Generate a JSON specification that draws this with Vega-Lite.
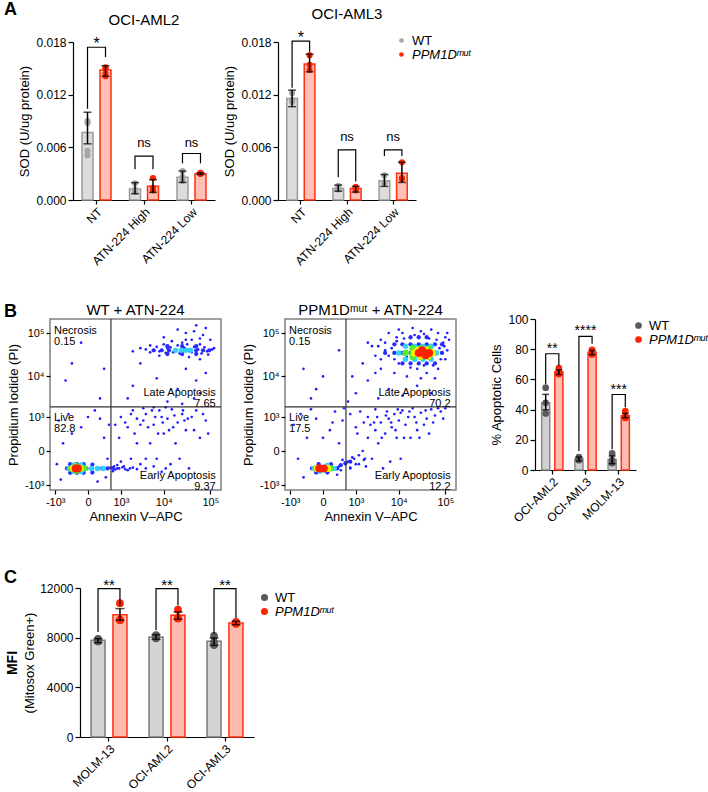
{
"$schema":"https://vega.github.io/schema/vega-lite/v6.json",
"background":"white",
"padding":{"left":4,"top":0,"right":4,"bottom":2},
"datasets":{
"sum":[
{"p":"A1","c":"NT","g":"WT","m":0.0077,"lo":0.0064,"hi":0.0100},
{"p":"A1","c":"NT","g":"MUT","m":0.0148,"lo":0.0141,"hi":0.0153},
{"p":"A1","c":"ATN-224 High","g":"WT","m":0.00125,"lo":0.00072,"hi":0.00198},
{"p":"A1","c":"ATN-224 High","g":"MUT","m":0.00156,"lo":0.00087,"hi":0.00232},
{"p":"A1","c":"ATN-224 Low","g":"WT","m":0.00258,"lo":0.0020,"hi":0.0033},
{"p":"A1","c":"ATN-224 Low","g":"MUT","m":0.0030,"lo":0.0029,"hi":0.0031},
{"p":"A2","c":"NT","g":"WT","m":0.01157,"lo":0.01063,"hi":0.01252},
{"p":"A2","c":"NT","g":"MUT","m":0.0155,"lo":0.0146,"hi":0.0166},
{"p":"A2","c":"ATN-224 High","g":"WT","m":0.00132,"lo":0.0010,"hi":0.0017},
{"p":"A2","c":"ATN-224 High","g":"MUT","m":0.0013,"lo":0.0009,"hi":0.00155},
{"p":"A2","c":"ATN-224 Low","g":"WT","m":0.0022,"lo":0.00155,"hi":0.0029},
{"p":"A2","c":"ATN-224 Low","g":"MUT","m":0.00306,"lo":0.0020,"hi":0.0043},
{"p":"B3","c":"OCI-AML2","g":"WT","m":44.6,"lo":39.9,"hi":50.1},
{"p":"B3","c":"OCI-AML2","g":"MUT","m":65,"lo":63.2,"hi":66.3},
{"p":"B3","c":"OCI-AML3","g":"WT","m":7.5,"lo":6.0,"hi":8.6},
{"p":"B3","c":"OCI-AML3","g":"MUT","m":78,"lo":76.3,"hi":79.2},
{"p":"B3","c":"MOLM-13","g":"WT","m":7,"lo":4.2,"hi":9.3},
{"p":"B3","c":"MOLM-13","g":"MUT","m":36,"lo":34.6,"hi":37.5},
{"p":"C","c":"MOLM-13","g":"WT","m":7785,"lo":7600,"hi":7920},
{"p":"C","c":"MOLM-13","g":"MUT","m":9852,"lo":9400,"hi":10340},
{"p":"C","c":"OCI-AML2","g":"WT","m":8054,"lo":7866,"hi":8242},
{"p":"C","c":"OCI-AML2","g":"MUT","m":9798,"lo":9480,"hi":10070},
{"p":"C","c":"OCI-AML3","g":"WT","m":7705,"lo":7383,"hi":7973},
{"p":"C","c":"OCI-AML3","g":"MUT","m":9181,"lo":9047,"hi":9315}
],
"pts":[
{"p":"A1","c":"NT","g":"WT","v":0.0090},{"p":"A1","c":"NT","g":"WT","v":0.0088},{"p":"A1","c":"NT","g":"WT","v":0.0056},{"p":"A1","c":"NT","g":"WT","v":0.0051},
{"p":"A1","c":"NT","g":"MUT","v":0.0151},{"p":"A1","c":"NT","g":"MUT","v":0.0150},{"p":"A1","c":"NT","g":"MUT","v":0.0144},{"p":"A1","c":"NT","g":"MUT","v":0.0141},
{"p":"A1","c":"ATN-224 High","g":"WT","v":0.0019},{"p":"A1","c":"ATN-224 High","g":"WT","v":0.0012},{"p":"A1","c":"ATN-224 High","g":"WT","v":0.0009},
{"p":"A1","c":"ATN-224 High","g":"MUT","v":0.0025},{"p":"A1","c":"ATN-224 High","g":"MUT","v":0.0014},{"p":"A1","c":"ATN-224 High","g":"MUT","v":0.0011},
{"p":"A1","c":"ATN-224 Low","g":"WT","v":0.0033},{"p":"A1","c":"ATN-224 Low","g":"WT","v":0.0026},{"p":"A1","c":"ATN-224 Low","g":"WT","v":0.0022},
{"p":"A1","c":"ATN-224 Low","g":"MUT","v":0.0031},{"p":"A1","c":"ATN-224 Low","g":"MUT","v":0.0030},{"p":"A1","c":"ATN-224 Low","g":"MUT","v":0.0030},
{"p":"A2","c":"NT","g":"WT","v":0.0122},{"p":"A2","c":"NT","g":"WT","v":0.0114},{"p":"A2","c":"NT","g":"WT","v":0.0112},
{"p":"A2","c":"NT","g":"MUT","v":0.0165},{"p":"A2","c":"NT","g":"MUT","v":0.0154},{"p":"A2","c":"NT","g":"MUT","v":0.0148},
{"p":"A2","c":"ATN-224 High","g":"WT","v":0.0016},{"p":"A2","c":"ATN-224 High","g":"WT","v":0.0013},{"p":"A2","c":"ATN-224 High","g":"WT","v":0.0012},
{"p":"A2","c":"ATN-224 High","g":"MUT","v":0.0015},{"p":"A2","c":"ATN-224 High","g":"MUT","v":0.0013},{"p":"A2","c":"ATN-224 High","g":"MUT","v":0.0011},
{"p":"A2","c":"ATN-224 Low","g":"WT","v":0.0028},{"p":"A2","c":"ATN-224 Low","g":"WT","v":0.0020},{"p":"A2","c":"ATN-224 Low","g":"WT","v":0.0019},
{"p":"A2","c":"ATN-224 Low","g":"MUT","v":0.0043},{"p":"A2","c":"ATN-224 Low","g":"MUT","v":0.0025},{"p":"A2","c":"ATN-224 Low","g":"MUT","v":0.0024},
{"p":"B3","c":"OCI-AML2","g":"WT","v":54.5},{"p":"B3","c":"OCI-AML2","g":"WT","v":44.5},{"p":"B3","c":"OCI-AML2","g":"WT","v":37.5},
{"p":"B3","c":"OCI-AML2","g":"MUT","v":67.5},{"p":"B3","c":"OCI-AML2","g":"MUT","v":64.5},{"p":"B3","c":"OCI-AML2","g":"MUT","v":63.5},
{"p":"B3","c":"OCI-AML3","g":"WT","v":8.5},{"p":"B3","c":"OCI-AML3","g":"WT","v":7.5},{"p":"B3","c":"OCI-AML3","g":"WT","v":6.5},
{"p":"B3","c":"OCI-AML3","g":"MUT","v":79.5},{"p":"B3","c":"OCI-AML3","g":"MUT","v":77.5},{"p":"B3","c":"OCI-AML3","g":"MUT","v":76.5},
{"p":"B3","c":"MOLM-13","g":"WT","v":11},{"p":"B3","c":"MOLM-13","g":"WT","v":6.5},{"p":"B3","c":"MOLM-13","g":"WT","v":4.5},
{"p":"B3","c":"MOLM-13","g":"MUT","v":39},{"p":"B3","c":"MOLM-13","g":"MUT","v":35.5},{"p":"B3","c":"MOLM-13","g":"MUT","v":34.5},
{"p":"C","c":"MOLM-13","g":"WT","v":7900},{"p":"C","c":"MOLM-13","g":"WT","v":7750},{"p":"C","c":"MOLM-13","g":"WT","v":7700},
{"p":"C","c":"MOLM-13","g":"MUT","v":10780},{"p":"C","c":"MOLM-13","g":"MUT","v":9450},{"p":"C","c":"MOLM-13","g":"MUT","v":9400},
{"p":"C","c":"OCI-AML2","g":"WT","v":8200},{"p":"C","c":"OCI-AML2","g":"WT","v":8000},{"p":"C","c":"OCI-AML2","g":"WT","v":7950},
{"p":"C","c":"OCI-AML2","g":"MUT","v":10250},{"p":"C","c":"OCI-AML2","g":"MUT","v":9600},{"p":"C","c":"OCI-AML2","g":"MUT","v":9550},
{"p":"C","c":"OCI-AML3","g":"WT","v":8150},{"p":"C","c":"OCI-AML3","g":"WT","v":7650},{"p":"C","c":"OCI-AML3","g":"WT","v":7400},
{"p":"C","c":"OCI-AML3","g":"MUT","v":9280},{"p":"C","c":"OCI-AML3","g":"MUT","v":9150},{"p":"C","c":"OCI-AML3","g":"MUT","v":9120}
],
"br":[
{"p":"A1","c":"NT","g":"WT","v":0.0104,"o":1},{"p":"A1","c":"NT","g":"WT","v":0.0174,"o":2},{"p":"A1","c":"NT","g":"MUT","v":0.0174,"o":3},{"p":"A1","c":"NT","g":"MUT","v":0.0163,"o":4},
{"p":"A1","c":"ATN-224 High","g":"WT","v":0.0035,"o":1},{"p":"A1","c":"ATN-224 High","g":"WT","v":0.0050,"o":2},{"p":"A1","c":"ATN-224 High","g":"MUT","v":0.0050,"o":3},{"p":"A1","c":"ATN-224 High","g":"MUT","v":0.0035,"o":4},
{"p":"A1","c":"ATN-224 Low","g":"WT","v":0.0042,"o":1},{"p":"A1","c":"ATN-224 Low","g":"WT","v":0.0053,"o":2},{"p":"A1","c":"ATN-224 Low","g":"MUT","v":0.0053,"o":3},{"p":"A1","c":"ATN-224 Low","g":"MUT","v":0.0042,"o":4},
{"p":"A2","c":"NT","g":"WT","v":0.0128,"o":1},{"p":"A2","c":"NT","g":"WT","v":0.0181,"o":2},{"p":"A2","c":"NT","g":"MUT","v":0.0181,"o":3},{"p":"A2","c":"NT","g":"MUT","v":0.0169,"o":4},
{"p":"A2","c":"ATN-224 High","g":"WT","v":0.0026,"o":1},{"p":"A2","c":"ATN-224 High","g":"WT","v":0.0057,"o":2},{"p":"A2","c":"ATN-224 High","g":"MUT","v":0.0057,"o":3},{"p":"A2","c":"ATN-224 High","g":"MUT","v":0.0021,"o":4},
{"p":"A2","c":"ATN-224 Low","g":"WT","v":0.0050,"o":1},{"p":"A2","c":"ATN-224 Low","g":"WT","v":0.0057,"o":2},{"p":"A2","c":"ATN-224 Low","g":"MUT","v":0.0057,"o":3},{"p":"A2","c":"ATN-224 Low","g":"MUT","v":0.0050,"o":4},
{"p":"B3","c":"OCI-AML2","g":"WT","v":57,"o":1},{"p":"B3","c":"OCI-AML2","g":"WT","v":77,"o":2},{"p":"B3","c":"OCI-AML2","g":"MUT","v":77,"o":3},{"p":"B3","c":"OCI-AML2","g":"MUT","v":69,"o":4},
{"p":"B3","c":"OCI-AML3","g":"WT","v":12.6,"o":1},{"p":"B3","c":"OCI-AML3","g":"WT","v":88.5,"o":2},{"p":"B3","c":"OCI-AML3","g":"MUT","v":88.5,"o":3},{"p":"B3","c":"OCI-AML3","g":"MUT","v":83.6,"o":4},
{"p":"B3","c":"MOLM-13","g":"WT","v":13.7,"o":1},{"p":"B3","c":"MOLM-13","g":"WT","v":50,"o":2},{"p":"B3","c":"MOLM-13","g":"MUT","v":50,"o":3},{"p":"B3","c":"MOLM-13","g":"MUT","v":41.5,"o":4},
{"p":"C","c":"MOLM-13","g":"WT","v":8456,"o":1},{"p":"C","c":"MOLM-13","g":"WT","v":11950,"o":2},{"p":"C","c":"MOLM-13","g":"MUT","v":11950,"o":3},{"p":"C","c":"MOLM-13","g":"MUT","v":10600,"o":4},
{"p":"C","c":"OCI-AML2","g":"WT","v":8590,"o":1},{"p":"C","c":"OCI-AML2","g":"WT","v":11950,"o":2},{"p":"C","c":"OCI-AML2","g":"MUT","v":11950,"o":3},{"p":"C","c":"OCI-AML2","g":"MUT","v":10600,"o":4},
{"p":"C","c":"OCI-AML3","g":"WT","v":8320,"o":1},{"p":"C","c":"OCI-AML3","g":"WT","v":11950,"o":2},{"p":"C","c":"OCI-AML3","g":"MUT","v":11950,"o":3},{"p":"C","c":"OCI-AML3","g":"MUT","v":9580,"o":4}
],
"sig":[
{"p":"A1","c":"NT","t":"*","v":0.0172},{"p":"A1","c":"ATN-224 High","t":"ns","v":0.0060},{"p":"A1","c":"ATN-224 Low","t":"ns","v":0.0060},
{"p":"A2","c":"NT","t":"*","v":0.0179},{"p":"A2","c":"ATN-224 High","t":"ns","v":0.0067},{"p":"A2","c":"ATN-224 Low","t":"ns","v":0.0067},
{"p":"B3","c":"OCI-AML2","t":"**","v":77.5},{"p":"B3","c":"OCI-AML3","t":"****","v":89.5},{"p":"B3","c":"MOLM-13","t":"***","v":50.3},
{"p":"C","c":"MOLM-13","t":"**","v":11800},{"p":"C","c":"OCI-AML2","t":"**","v":11800},{"p":"C","c":"OCI-AML3","t":"**","v":11800}
],
"gates":[{"p":"WT","gx":520,"gy":1840},{"p":"MUT","gx":520,"gy":1840}],
"qlab":[
{"p":"WT","q":"L","t":"Necrosis\n0.15","x":-1070,"y":150000},
{"p":"WT","q":"L","t":"Live\n82.8","x":-1070,"y":1360},
{"p":"WT","q":"R","t":"Late Apoptosis\n7.65","x":130000,"y":3000},
{"p":"WT","q":"R","t":"Early Apoptosis\n9.37","x":130000,"y":-750},
{"p":"MUT","q":"L","t":"Necrosis\n0.15","x":-1070,"y":150000},
{"p":"MUT","q":"L","t":"Live\n17.5","x":-1070,"y":1360},
{"p":"MUT","q":"R","t":"Late Apoptosis\n70.2","x":130000,"y":3000},
{"p":"MUT","q":"R","t":"Early Apoptosis\n12.2","x":130000,"y":-750}
],
"fwt":[
{"x":10000,"y":80000,"d":0},{"x":30000,"y":100000,"d":0},{"x":50000,"y":150000,"d":0},{"x":70000,"y":90000,"d":0},{"x":40000,"y":70000,"d":0},{"x":20000,"y":120000,"d":0},{"x":80000,"y":130000,"d":0},{"x":15000,"y":65000,"d":0},{"x":60000,"y":25000,"d":0},{"x":100000,"y":70000,"d":0},{"x":8000,"y":30000,"d":0},{"x":3000,"y":45000,"d":0},{"x":5000,"y":52000,"d":0},{"x":120000,"y":45000,"d":0},{"x":2000,"y":38000,"d":0},{"x":35000,"y":28000,"d":0},{"x":90000,"y":32000,"d":0},{"x":25000,"y":60000,"d":0},{"x":45000,"y":110000,"d":0},{"x":12000,"y":45000,"d":0},
{"x":4000,"y":42000,"d":0},{"x":5000,"y":36000,"d":0},{"x":7000,"y":48000,"d":0},{"x":8000,"y":38000,"d":0},{"x":10000,"y":55000,"d":0},{"x":11000,"y":35000,"d":0},{"x":14000,"y":47000,"d":0},{"x":16000,"y":36000,"d":0},{"x":20000,"y":52000,"d":0},{"x":22000,"y":34000,"d":0},{"x":28000,"y":46000,"d":0},{"x":32000,"y":55000,"d":0},{"x":40000,"y":36000,"d":0},{"x":45000,"y":48000,"d":0},{"x":55000,"y":42000,"d":0},{"x":60000,"y":55000,"d":0},{"x":65000,"y":34000,"d":0},{"x":75000,"y":47000,"d":0},{"x":85000,"y":38000,"d":0},{"x":110000,"y":42000,"d":0},{"x":30000,"y":70000,"d":0},{"x":60000,"y":75000,"d":0},
{"x":30000,"y":15000,"d":0},{"x":50000,"y":8000,"d":0},{"x":20000,"y":5000,"d":0},{"x":3000,"y":20000,"d":0},{"x":2000,"y":6000,"d":0},{"x":1500,"y":3000,"d":0},{"x":45000,"y":3000,"d":0},{"x":80000,"y":12000,"d":0},{"x":12000,"y":2500,"d":0},{"x":60000,"y":4000,"d":0},{"x":7000,"y":9000,"d":0},{"x":25000,"y":2200,"d":0},
{"x":-300,"y":20000,"d":0},{"x":-100,"y":60000,"d":0},{"x":200,"y":3000,"d":0},{"x":-500,"y":8000,"d":0},{"x":300,"y":15000,"d":0},
{"x":800,"y":-300,"d":0},{"x":1200,"y":-250,"d":0},{"x":1500,"y":-350,"d":0},{"x":2000,"y":-280,"d":0},{"x":2500,"y":-320,"d":0},{"x":3000,"y":-200,"d":0},{"x":4000,"y":-300,"d":0},{"x":6000,"y":-250,"d":0},{"x":900,"y":200,"d":0},{"x":1500,"y":500,"d":0},{"x":2500,"y":900,"d":0},{"x":4000,"y":1200,"d":0},{"x":6000,"y":600,"d":0},{"x":8000,"y":1500,"d":0},{"x":10000,"y":300,"d":0},{"x":12000,"y":900,"d":0},{"x":15000,"y":1600,"d":0},{"x":20000,"y":700,"d":0},{"x":25000,"y":1200,"d":0},{"x":30000,"y":400,"d":0},{"x":40000,"y":1000,"d":0},{"x":50000,"y":1500,"d":0},{"x":60000,"y":200,"d":0},{"x":80000,"y":800,"d":0},{"x":3500,"y":1700,"d":0},{"x":5000,"y":100,"d":0},{"x":7000,"y":-100,"d":0},{"x":9000,"y":-400,"d":0},{"x":14000,"y":-200,"d":0},{"x":18000,"y":100,"d":0},{"x":1000,"y":1000,"d":0},{"x":2000,"y":1500,"d":0},{"x":700,"y":600,"d":0},{"x":11000,"y":1800,"d":0},{"x":35000,"y":-300,"d":0},{"x":2200,"y":300,"d":0},{"x":4500,"y":500,"d":0},{"x":17000,"y":1100,"d":0},{"x":3000,"y":600,"d":0},{"x":6500,"y":1000,"d":0},{"x":9500,"y":700,"d":0},{"x":13000,"y":400,"d":0},{"x":28000,"y":800,"d":0},{"x":1800,"y":-100,"d":0},
{"x":1000,"y":-150,"d":0},{"x":2500,"y":100,"d":0},{"x":3500,"y":800,"d":0},{"x":5500,"y":1500,"d":0},{"x":7500,"y":300,"d":0},{"x":9000,"y":1000,"d":0},{"x":11000,"y":-300,"d":0},{"x":16000,"y":500,"d":0},{"x":22000,"y":-100,"d":0},{"x":26000,"y":1500,"d":0},{"x":33000,"y":900,"d":0},{"x":45000,"y":400,"d":0},{"x":70000,"y":1200,"d":0},{"x":90000,"y":300,"d":0},{"x":1300,"y":700,"d":0},{"x":1800,"y":1200,"d":0},{"x":4000,"y":-100,"d":0},{"x":6000,"y":1800,"d":0},
{"x":-800,"y":800,"d":0},{"x":-400,"y":1200,"d":0},{"x":-100,"y":500,"d":0},{"x":200,"y":900,"d":0},{"x":300,"y":200,"d":0},{"x":-600,"y":100,"d":0},{"x":100,"y":1500,"d":0},{"x":400,"y":-100,"d":0},{"x":-300,"y":300,"d":0},{"x":0,"y":1000,"d":0},{"x":-900,"y":-200,"d":0},{"x":350,"y":-600,"d":0},{"x":-700,"y":-700,"d":0},{"x":150,"y":-800,"d":0},{"x":450,"y":600,"d":0},
{"x":500,"y":-280,"d":0},{"x":700,"y":-330,"d":0},{"x":650,"y":-250,"d":0},{"x":900,"y":-300,"d":0},{"x":1100,"y":-270,"d":0},{"x":1300,"y":-320,"d":0},{"x":1700,"y":-300,"d":0},{"x":600,"y":-380,"d":0},{"x":800,"y":-220,"d":0},
{"x":-450,"y":-300,"d":1},{"x":-320,"y":-300,"d":1},{"x":-200,"y":-300,"d":1},{"x":-100,"y":-300,"d":1},{"x":-20,"y":-300,"d":1},{"x":50,"y":-300,"d":1},{"x":140,"y":-300,"d":1},{"x":250,"y":-300,"d":1},{"x":400,"y":-300,"d":1},{"x":600,"y":-290,"d":1},{"x":-350,"y":-200,"d":1},{"x":-180,"y":-200,"d":1},{"x":-60,"y":-200,"d":1},{"x":60,"y":-210,"d":1},{"x":-350,"y":-430,"d":1},{"x":-180,"y":-430,"d":1},{"x":-60,"y":-430,"d":1},{"x":60,"y":-420,"d":1},
{"x":6000,"y":40000,"d":1},{"x":9000,"y":40000,"d":1},{"x":13000,"y":40000,"d":1},{"x":18000,"y":40000,"d":1},{"x":25000,"y":40000,"d":1},{"x":35000,"y":40000,"d":1},{"x":50000,"y":40000,"d":1},{"x":70000,"y":40000,"d":1},{"x":95000,"y":40000,"d":1},{"x":12000,"y":50000,"d":1},{"x":25000,"y":50000,"d":1},{"x":50000,"y":50000,"d":1},{"x":12000,"y":33000,"d":1},{"x":25000,"y":33000,"d":1},{"x":50000,"y":33000,"d":1},
{"x":-380,"y":-300,"d":2},{"x":-250,"y":-300,"d":2},{"x":-130,"y":-300,"d":2},{"x":-40,"y":-300,"d":2},{"x":50,"y":-300,"d":2},{"x":150,"y":-300,"d":2},{"x":280,"y":-300,"d":2},{"x":-250,"y":-220,"d":2},{"x":-250,"y":-390,"d":2},{"x":-100,"y":-220,"d":2},{"x":-100,"y":-390,"d":2},
{"x":18000,"y":40000,"d":2},{"x":24000,"y":40000,"d":2},{"x":30000,"y":40000,"d":2},{"x":38000,"y":40000,"d":2},
{"x":-320,"y":-300,"d":3},{"x":-220,"y":-300,"d":3},{"x":-130,"y":-300,"d":3},{"x":-50,"y":-300,"d":3},{"x":-200,"y":-240,"d":3},{"x":-200,"y":-370,"d":3},
{"x":-260,"y":-300,"d":4},{"x":-190,"y":-300,"d":4},{"x":-120,"y":-300,"d":4},
{"x":-210,"y":-300,"d":5},{"x":-160,"y":-300,"d":5}
],
"fmut":[
{"x":3000,"y":30000,"d":0},{"x":2500,"y":50000,"d":0},{"x":4000,"y":70000,"d":0},{"x":6000,"y":100000,"d":0},{"x":10000,"y":120000,"d":0},{"x":20000,"y":130000,"d":0},{"x":50000,"y":120000,"d":0},{"x":90000,"y":60000,"d":0},{"x":110000,"y":40000,"d":0},{"x":100000,"y":25000,"d":0},{"x":70000,"y":15000,"d":0},{"x":40000,"y":12000,"d":0},{"x":15000,"y":10000,"d":0},{"x":8000,"y":12000,"d":0},{"x":4000,"y":15000,"d":0},{"x":2000,"y":8000,"d":0},{"x":6000,"y":5000,"d":0},{"x":25000,"y":6000,"d":0},{"x":50000,"y":4000,"d":0},{"x":3500,"y":3000,"d":0},{"x":12000,"y":3500,"d":0},{"x":1500,"y":20000,"d":0},{"x":1000,"y":4000,"d":0},{"x":8000,"y":25000,"d":0},{"x":110000,"y":100000,"d":0},{"x":600,"y":2500,"d":0},{"x":30000,"y":9000,"d":0},{"x":5000,"y":40000,"d":0},{"x":3000,"y":12000,"d":0},{"x":9000,"y":80000,"d":0},{"x":70000,"y":100000,"d":0},{"x":120000,"y":70000,"d":0},{"x":18000,"y":16000,"d":0},{"x":35000,"y":18000,"d":0},{"x":60000,"y":9000,"d":0},{"x":2000,"y":60000,"d":0},{"x":800,"y":10000,"d":0},
{"x":4000,"y":25000,"d":0},{"x":5000,"y":60000,"d":0},{"x":6000,"y":30000,"d":0},{"x":7000,"y":45000,"d":0},{"x":9000,"y":65000,"d":0},{"x":10000,"y":20000,"d":0},{"x":13000,"y":75000,"d":0},{"x":15000,"y":28000,"d":0},{"x":22000,"y":90000,"d":0},{"x":25000,"y":15000,"d":0},{"x":35000,"y":95000,"d":0},{"x":45000,"y":75000,"d":0},{"x":55000,"y":18000,"d":0},{"x":65000,"y":70000,"d":0},{"x":75000,"y":45000,"d":0},{"x":80000,"y":25000,"d":0},{"x":95000,"y":50000,"d":0},{"x":100000,"y":80000,"d":0},{"x":3500,"y":50000,"d":0},{"x":12000,"y":100000,"d":0},{"x":30000,"y":110000,"d":0},{"x":50000,"y":28000,"d":0},
{"x":-200,"y":3000,"d":0},{"x":-400,"y":15000,"d":0},{"x":300,"y":40000,"d":0},{"x":0,"y":10000,"d":0},{"x":-100,"y":5000,"d":0},
{"x":700,"y":-300,"d":0},{"x":900,"y":-100,"d":0},{"x":1200,"y":-200,"d":0},{"x":1500,"y":0,"d":0},{"x":1800,"y":-250,"d":0},{"x":2000,"y":200,"d":0},{"x":2500,"y":-100,"d":0},{"x":3000,"y":400,"d":0},{"x":3500,"y":100,"d":0},{"x":4000,"y":700,"d":0},{"x":5000,"y":300,"d":0},{"x":6000,"y":900,"d":0},{"x":7000,"y":500,"d":0},{"x":8000,"y":1200,"d":0},{"x":9000,"y":200,"d":0},{"x":10000,"y":800,"d":0},{"x":12000,"y":1500,"d":0},{"x":14000,"y":600,"d":0},{"x":16000,"y":1000,"d":0},{"x":20000,"y":1700,"d":0},{"x":25000,"y":400,"d":0},{"x":30000,"y":1300,"d":0},{"x":40000,"y":900,"d":0},{"x":50000,"y":1600,"d":0},{"x":60000,"y":1100,"d":0},{"x":80000,"y":1400,"d":0},{"x":100000,"y":1700,"d":0},{"x":1000,"y":500,"d":0},{"x":2000,"y":1000,"d":0},{"x":1300,"y":1400,"d":0},{"x":4500,"y":-300,"d":0},{"x":6500,"y":-150,"d":0},{"x":3000,"y":1600,"d":0},{"x":18000,"y":200,"d":0},{"x":45000,"y":300,"d":0},{"x":11000,"y":-100,"d":0},{"x":700,"y":1200,"d":0},{"x":2800,"y":700,"d":0},{"x":5500,"y":1400,"d":0},{"x":9500,"y":1600,"d":0},{"x":22000,"y":1000,"d":0},{"x":35000,"y":600,"d":0},{"x":1600,"y":700,"d":0},
{"x":1100,"y":300,"d":0},{"x":1700,"y":-100,"d":0},{"x":2300,"y":600,"d":0},{"x":3300,"y":1000,"d":0},{"x":4200,"y":200,"d":0},{"x":5200,"y":1100,"d":0},{"x":6800,"y":700,"d":0},{"x":8500,"y":400,"d":0},{"x":11000,"y":1300,"d":0},{"x":13000,"y":200,"d":0},{"x":17000,"y":1400,"d":0},{"x":24000,"y":700,"d":0},{"x":28000,"y":200,"d":0},{"x":38000,"y":1500,"d":0},{"x":55000,"y":700,"d":0},{"x":70000,"y":1700,"d":0},{"x":90000,"y":900,"d":0},
{"x":-800,"y":600,"d":0},{"x":-500,"y":1200,"d":0},{"x":-300,"y":200,"d":0},{"x":-100,"y":900,"d":0},{"x":100,"y":400,"d":0},{"x":200,"y":1400,"d":0},{"x":300,"y":100,"d":0},{"x":400,"y":800,"d":0},{"x":-600,"y":-100,"d":0},{"x":-200,"y":1600,"d":0},{"x":0,"y":200,"d":0},{"x":250,"y":-500,"d":0},{"x":-400,"y":-600,"d":0},{"x":450,"y":1700,"d":0},{"x":150,"y":700,"d":0},
{"x":300,"y":-250,"d":0},{"x":500,"y":-200,"d":0},{"x":400,"y":-120,"d":0},{"x":600,"y":-150,"d":0},{"x":800,"y":-80,"d":0},{"x":1000,"y":-200,"d":0},{"x":1200,"y":-50,"d":0},{"x":700,"y":-280,"d":0},{"x":350,"y":-350,"d":0},{"x":1600,"y":-120,"d":0},
{"x":-180,"y":-300,"d":1},{"x":-100,"y":-300,"d":1},{"x":-20,"y":-300,"d":1},{"x":60,"y":-300,"d":1},{"x":150,"y":-300,"d":1},{"x":250,"y":-300,"d":1},{"x":-100,"y":-420,"d":1},{"x":60,"y":-420,"d":1},{"x":-60,"y":-200,"d":1},{"x":120,"y":-200,"d":1},{"x":350,"y":-220,"d":1},{"x":500,"y":-180,"d":1},{"x":700,"y":-150,"d":1},
{"x":5000,"y":35000,"d":1},{"x":8000,"y":35000,"d":1},{"x":12000,"y":35000,"d":1},{"x":18000,"y":35000,"d":1},{"x":27000,"y":35000,"d":1},{"x":40000,"y":35000,"d":1},{"x":60000,"y":35000,"d":1},{"x":85000,"y":35000,"d":1},
{"x":8000,"y":55000,"d":1},{"x":12000,"y":55000,"d":1},{"x":18000,"y":55000,"d":1},{"x":27000,"y":55000,"d":1},{"x":40000,"y":55000,"d":1},{"x":60000,"y":55000,"d":1},{"x":85000,"y":55000,"d":1},
{"x":12000,"y":20000,"d":1},{"x":18000,"y":20000,"d":1},{"x":27000,"y":20000,"d":1},{"x":40000,"y":20000,"d":1},{"x":60000,"y":20000,"d":1},
{"x":18000,"y":80000,"d":1},{"x":27000,"y":80000,"d":1},{"x":40000,"y":80000,"d":1},
{"x":-140,"y":-300,"d":2},{"x":-60,"y":-300,"d":2},{"x":20,"y":-300,"d":2},{"x":100,"y":-300,"d":2},{"x":180,"y":-300,"d":2},{"x":-40,"y":-380,"d":2},{"x":60,"y":-230,"d":2},
{"x":10000,"y":35000,"d":2},{"x":14000,"y":35000,"d":2},{"x":20000,"y":35000,"d":2},{"x":30000,"y":35000,"d":2},{"x":45000,"y":35000,"d":2},{"x":65000,"y":35000,"d":2},
{"x":14000,"y":50000,"d":2},{"x":22000,"y":50000,"d":2},{"x":33000,"y":50000,"d":2},{"x":50000,"y":50000,"d":2},
{"x":14000,"y":25000,"d":2},{"x":22000,"y":25000,"d":2},{"x":33000,"y":25000,"d":2},{"x":50000,"y":25000,"d":2},
{"x":-110,"y":-300,"d":3},{"x":-40,"y":-300,"d":3},{"x":40,"y":-300,"d":3},{"x":110,"y":-300,"d":3},
{"x":14000,"y":35000,"d":3},{"x":20000,"y":35000,"d":3},{"x":28000,"y":35000,"d":3},{"x":40000,"y":35000,"d":3},{"x":55000,"y":35000,"d":3},
{"x":20000,"y":45000,"d":3},{"x":30000,"y":45000,"d":3},{"x":45000,"y":45000,"d":3},
{"x":20000,"y":28000,"d":3},{"x":30000,"y":28000,"d":3},{"x":45000,"y":28000,"d":3},
{"x":-80,"y":-300,"d":4},{"x":0,"y":-300,"d":4},{"x":60,"y":-300,"d":4},
{"x":22000,"y":35000,"d":4},{"x":30000,"y":35000,"d":4},{"x":40000,"y":35000,"d":4},{"x":52000,"y":35000,"d":4},{"x":26000,"y":40000,"d":4},{"x":38000,"y":40000,"d":4},{"x":30000,"y":30000,"d":4},{"x":42000,"y":30000,"d":4},
{"x":-50,"y":-300,"d":5},{"x":10,"y":-300,"d":5},
{"x":27000,"y":35000,"d":5},{"x":35000,"y":35000,"d":5},{"x":45000,"y":35000,"d":5},{"x":32000,"y":40000,"d":5},{"x":38000,"y":31000,"d":5}
]
},
"concat":[
{"concat":[
{"title":{"text":"A","anchor":"start","fontSize":18,"fontWeight":"bold","offset":-12,"frame":"bounds"},
"spacing":8,
"resolve":{"scale":{"color":"independent","size":"independent","xOffset":"independent"},"legend":{"color":"independent","size":"independent"}},
"hconcat":[
{"width":6,"height":1,"data":{"values":[]},"mark":"point","encoding":{}},
{"width":142,"height":158,
"title":{"text":"OCI-AML2","frame":"group","offset":8},
"layer":[
{"data":{"name":"sum"},"transform":[{"filter":"datum.p=='A1'"}],"mark":{"type":"bar","strokeWidth":1.5},
"encoding":{
"x":{"field":"c","type":"nominal","sort":["NT","ATN-224 High","ATN-224 Low"],"scale":{"paddingInner":0.39,"paddingOuter":0.19},"axis":{"title":null,"labelAngle":-45,"tickSize":4,"labelPadding":2}},
"xOffset":{"field":"g","type":"nominal","sort":["WT","MUT"],"scale":{"paddingInner":0.39}},
"y":{"field":"m","type":"quantitative","scale":{"domain":[0,0.018],"nice":false},"axis":{"title":"SOD (U/ug protein)","values":[0,0.006,0.012,0.018],"tickCount":4,"format":".3f","tickSize":5}},
"fill":{"condition":{"test":"datum.g=='WT'","value":"#dcdcdc"},"value":"#ffc0b6"},
"stroke":{"condition":{"test":"datum.g=='WT'","value":"#9a9a9a"},"value":"#ff3010"}}},
{"data":{"name":"pts"},"transform":[{"filter":"datum.p=='A1'"}],"mark":{"type":"point","filled":true,"size":38,"opacity":1},
"encoding":{"x":{"field":"c","type":"nominal","sort":["NT","ATN-224 High","ATN-224 Low"]},"xOffset":{"field":"g","type":"nominal","sort":["WT","MUT"]},"y":{"field":"v","type":"quantitative"},
"color":{"field":"g","type":"nominal","scale":{"domain":["WT","MUT"],"range":["#a6a6a6","#ff2400"]},"legend":null}}},
{"data":{"name":"sum"},"transform":[{"filter":"datum.p=='A1'"}],"mark":{"type":"rule","strokeWidth":1.5,"color":"black"},
"encoding":{"x":{"field":"c","type":"nominal","sort":["NT","ATN-224 High","ATN-224 Low"]},"xOffset":{"field":"g","type":"nominal","sort":["WT","MUT"]},"y":{"field":"lo","type":"quantitative"},"y2":{"field":"hi"}}},
{"data":{"name":"sum"},"transform":[{"filter":"datum.p=='A1'"}],"mark":{"type":"tick","size":8,"thickness":1.5,"color":"black"},
"encoding":{"x":{"field":"c","type":"nominal","sort":["NT","ATN-224 High","ATN-224 Low"]},"xOffset":{"field":"g","type":"nominal","sort":["WT","MUT"]},"y":{"field":"lo","type":"quantitative"}}},
{"data":{"name":"sum"},"transform":[{"filter":"datum.p=='A1'"}],"mark":{"type":"tick","size":8,"thickness":1.5,"color":"black"},
"encoding":{"x":{"field":"c","type":"nominal","sort":["NT","ATN-224 High","ATN-224 Low"]},"xOffset":{"field":"g","type":"nominal","sort":["WT","MUT"]},"y":{"field":"hi","type":"quantitative"}}},
{"data":{"name":"br"},"transform":[{"filter":"datum.p=='A1'"}],"mark":{"type":"line","color":"black","strokeWidth":1.2},
"encoding":{"x":{"field":"c","type":"nominal","sort":["NT","ATN-224 High","ATN-224 Low"]},"xOffset":{"field":"g","type":"nominal","sort":["WT","MUT"]},"y":{"field":"v","type":"quantitative"},"detail":{"field":"c"},"order":{"field":"o"}}},
{"data":{"name":"sig"},"transform":[{"filter":"datum.p=='A1'"}],"mark":{"type":"text","baseline":"alphabetic","color":"black"},
"encoding":{"x":{"field":"c","type":"nominal","sort":["NT","ATN-224 High","ATN-224 Low"]},"y":{"field":"v","type":"quantitative"},"text":{"field":"t"},"size":{"condition":{"test":"datum.t=='ns'","value":13},"value":16}}}
]},
{"width":138,"height":158,
"title":{"text":"OCI-AML3","frame":"group","offset":8},
"layer":[
{"data":{"name":"sum"},"transform":[{"filter":"datum.p=='A2'"}],"mark":{"type":"bar","strokeWidth":1.5},
"encoding":{
"x":{"field":"c","type":"nominal","sort":["NT","ATN-224 High","ATN-224 Low"],"scale":{"paddingInner":0.39,"paddingOuter":0.19},"axis":{"title":null,"labelAngle":-45,"tickSize":4,"labelPadding":2}},
"xOffset":{"field":"g","type":"nominal","sort":["WT","MUT"],"scale":{"paddingInner":0.39}},
"y":{"field":"m","type":"quantitative","scale":{"domain":[0,0.018],"nice":false},"axis":{"title":"SOD (U/ug protein)","values":[0,0.006,0.012,0.018],"tickCount":4,"format":".3f","tickSize":5}},
"fill":{"condition":{"test":"datum.g=='WT'","value":"#dcdcdc"},"value":"#ffc0b6"},
"stroke":{"condition":{"test":"datum.g=='WT'","value":"#9a9a9a"},"value":"#ff3010"}}},
{"data":{"name":"pts"},"transform":[{"filter":"datum.p=='A2'"}],"mark":{"type":"point","filled":true,"size":38,"opacity":1},
"encoding":{"x":{"field":"c","type":"nominal","sort":["NT","ATN-224 High","ATN-224 Low"]},"xOffset":{"field":"g","type":"nominal","sort":["WT","MUT"]},"y":{"field":"v","type":"quantitative"},
"color":{"field":"g","type":"nominal","scale":{"domain":["WT","MUT"],"range":["#a6a6a6","#ff2400"]},
"legend":{"orient":"none","legendX":117,"legendY":-8,"title":null,"symbolType":"circle","symbolSize":22,"labelFontSize":13,"rowPadding":-1,"labelExpr":"datum.value=='WT'?'WT':'PPM1Dᵐᵘᵗ'","labelFontStyle":{"expr":"datum.value=='WT'?'normal':'italic'"}}}}},
{"data":{"name":"sum"},"transform":[{"filter":"datum.p=='A2'"}],"mark":{"type":"rule","strokeWidth":1.5,"color":"black"},
"encoding":{"x":{"field":"c","type":"nominal","sort":["NT","ATN-224 High","ATN-224 Low"]},"xOffset":{"field":"g","type":"nominal","sort":["WT","MUT"]},"y":{"field":"lo","type":"quantitative"},"y2":{"field":"hi"}}},
{"data":{"name":"sum"},"transform":[{"filter":"datum.p=='A2'"}],"mark":{"type":"tick","size":8,"thickness":1.5,"color":"black"},
"encoding":{"x":{"field":"c","type":"nominal","sort":["NT","ATN-224 High","ATN-224 Low"]},"xOffset":{"field":"g","type":"nominal","sort":["WT","MUT"]},"y":{"field":"lo","type":"quantitative"}}},
{"data":{"name":"sum"},"transform":[{"filter":"datum.p=='A2'"}],"mark":{"type":"tick","size":8,"thickness":1.5,"color":"black"},
"encoding":{"x":{"field":"c","type":"nominal","sort":["NT","ATN-224 High","ATN-224 Low"]},"xOffset":{"field":"g","type":"nominal","sort":["WT","MUT"]},"y":{"field":"hi","type":"quantitative"}}},
{"data":{"name":"br"},"transform":[{"filter":"datum.p=='A2'"}],"mark":{"type":"line","color":"black","strokeWidth":1.2},
"encoding":{"x":{"field":"c","type":"nominal","sort":["NT","ATN-224 High","ATN-224 Low"]},"xOffset":{"field":"g","type":"nominal","sort":["WT","MUT"]},"y":{"field":"v","type":"quantitative"},"detail":{"field":"c"},"order":{"field":"o"}}},
{"data":{"name":"sig"},"transform":[{"filter":"datum.p=='A2'"}],"mark":{"type":"text","baseline":"alphabetic","color":"black"},
"encoding":{"x":{"field":"c","type":"nominal","sort":["NT","ATN-224 High","ATN-224 Low"]},"y":{"field":"v","type":"quantitative"},"text":{"field":"t"},"size":{"condition":{"test":"datum.t=='ns'","value":13},"value":16}}}
]}
]},
{"title":{"text":"B","anchor":"start","fontSize":18,"fontWeight":"bold","offset":-18,"frame":"bounds"},
"spacing":0,
"resolve":{"scale":{"color":"independent","size":"independent","xOffset":"independent"},"legend":{"color":"independent","size":"independent"}},
"hconcat":[
{"width":2,"height":1,"data":{"values":[]},"mark":"point","encoding":{}},
{"columns":2,"align":"none","spacing":32,
"resolve":{"scale":{"color":"independent","size":"independent","xOffset":"independent"},"legend":{"color":"independent","size":"independent"}},
"concat":[
{"spacing":18,
"resolve":{"scale":{"color":"independent","size":"independent","xOffset":"independent"},"legend":{"color":"independent","size":"independent"}},
"hconcat":[
{"width":171,"height":171,
"title":{"text":"WT + ATN-224","frame":"group","offset":0},
"view":{"stroke":"#808080","strokeWidth":1.5},
"layer":[
{"data":{"name":"fwt"},"mark":{"type":"point","filled":true,"opacity":1,"clip":true},
"encoding":{
"x":{"field":"x","type":"quantitative","scale":{"type":"symlog","constant":250,"domain":[-1360,169000],"nice":false,"zero":false},"axis":{"title":"Annexin V–APC","values":[-1000,0,1000,10000,100000],"tickCount":5,"labelExpr":"datum.value==-1000?'-10³':datum.value==0?'0':datum.value==1000?'10³':datum.value==10000?'10⁴':'10⁵'","domain":false,"tickSize":4,"labelFontSize":11,"titleFontSize":13,"titlePadding":3}},
"y":{"field":"y","type":"quantitative","scale":{"type":"symlog","constant":200,"domain":[-1360,209600],"nice":false,"zero":false},"axis":{"title":"Propidium Iodide (PI)","values":[-1000,0,1000,10000,100000],"tickCount":5,"labelExpr":"datum.value==-1000?'-10³':datum.value==0?'0':datum.value==1000?'10³':datum.value==10000?'10⁴':'10⁵'","domain":false,"tickSize":4,"labelFontSize":11,"titleFontSize":13,"titlePadding":4}},
"color":{"field":"d","type":"ordinal","scale":{"domain":[0,1,2,3,4,5],"range":["#1f1fff","#2a2aff","#30d0ff","#50ee30","#ffee00","#ff2000"]},"legend":null},
"size":{"field":"d","type":"ordinal","scale":{"domain":[0,1,2,3,4,5],"range":[7,64,49,36,25,16]},"legend":null}}},
{"data":{"name":"gates"},"transform":[{"filter":"datum.p=='WT'"}],"mark":{"type":"rule","color":"#333333","strokeWidth":1.2},"encoding":{"x":{"field":"gx","type":"quantitative"}}},
{"data":{"name":"gates"},"transform":[{"filter":"datum.p=='WT'"}],"mark":{"type":"rule","color":"#333333","strokeWidth":1.2},"encoding":{"y":{"field":"gy","type":"quantitative"}}},
{"data":{"name":"qlab"},"transform":[{"filter":"datum.p=='WT' && datum.q=='L'"}],"mark":{"type":"text","align":"left","baseline":"top","fontSize":11,"lineBreak":"\n","lineHeight":11,"color":"black"},
"encoding":{"x":{"field":"x","type":"quantitative"},"y":{"field":"y","type":"quantitative"},"text":{"field":"t"}}},
{"data":{"name":"qlab"},"transform":[{"filter":"datum.p=='WT' && datum.q=='R'"}],"mark":{"type":"text","align":"right","baseline":"bottom","fontSize":11,"lineBreak":"\n","lineHeight":11,"color":"black"},
"encoding":{"x":{"field":"x","type":"quantitative"},"y":{"field":"y","type":"quantitative"},"text":{"field":"t"}}}
]},
{"width":171,"height":171,
"title":{"text":"PPM1Dᵐᵘᵗ + ATN-224","frame":"group","offset":0},
"view":{"stroke":"#808080","strokeWidth":1.5},
"layer":[
{"data":{"name":"fmut"},"mark":{"type":"point","filled":true,"opacity":1,"clip":true},
"encoding":{
"x":{"field":"x","type":"quantitative","scale":{"type":"symlog","constant":250,"domain":[-1360,169000],"nice":false,"zero":false},"axis":{"title":"Annexin V–APC","values":[-1000,0,1000,10000,100000],"tickCount":5,"labelExpr":"datum.value==-1000?'-10³':datum.value==0?'0':datum.value==1000?'10³':datum.value==10000?'10⁴':'10⁵'","domain":false,"tickSize":4,"labelFontSize":11,"titleFontSize":13,"titlePadding":3}},
"y":{"field":"y","type":"quantitative","scale":{"type":"symlog","constant":200,"domain":[-1360,209600],"nice":false,"zero":false},"axis":{"title":"Propidium Iodide (PI)","values":[-1000,0,1000,10000,100000],"tickCount":5,"labelExpr":"datum.value==-1000?'-10³':datum.value==0?'0':datum.value==1000?'10³':datum.value==10000?'10⁴':'10⁵'","domain":false,"tickSize":4,"labelFontSize":11,"titleFontSize":13,"titlePadding":4}},
"color":{"field":"d","type":"ordinal","scale":{"domain":[0,1,2,3,4,5],"range":["#1f1fff","#2a2aff","#30d0ff","#50ee30","#ffee00","#ff2000"]},"legend":null},
"size":{"field":"d","type":"ordinal","scale":{"domain":[0,1,2,3,4,5],"range":[7,64,49,36,25,16]},"legend":null}}},
{"data":{"name":"gates"},"transform":[{"filter":"datum.p=='MUT'"}],"mark":{"type":"rule","color":"#333333","strokeWidth":1.2},"encoding":{"x":{"field":"gx","type":"quantitative"}}},
{"data":{"name":"gates"},"transform":[{"filter":"datum.p=='MUT'"}],"mark":{"type":"rule","color":"#333333","strokeWidth":1.2},"encoding":{"y":{"field":"gy","type":"quantitative"}}},
{"data":{"name":"qlab"},"transform":[{"filter":"datum.p=='MUT' && datum.q=='L'"}],"mark":{"type":"text","align":"left","baseline":"top","fontSize":11,"lineBreak":"\n","lineHeight":11,"color":"black"},
"encoding":{"x":{"field":"x","type":"quantitative"},"y":{"field":"y","type":"quantitative"},"text":{"field":"t"}}},
{"data":{"name":"qlab"},"transform":[{"filter":"datum.p=='MUT' && datum.q=='R'"}],"mark":{"type":"text","align":"right","baseline":"bottom","fontSize":11,"lineBreak":"\n","lineHeight":11,"color":"black"},
"encoding":{"x":{"field":"x","type":"quantitative"},"y":{"field":"y","type":"quantitative"},"text":{"field":"t"}}}
]}
]},
{"width":101,"height":151,
"layer":[
{"data":{"name":"sum"},"transform":[{"filter":"datum.p=='B3'"}],"mark":{"type":"bar","strokeWidth":1.5},
"encoding":{
"x":{"field":"c","type":"nominal","sort":["OCI-AML2","OCI-AML3","MOLM-13"],"scale":{"paddingInner":0.36,"paddingOuter":0.2},"axis":{"title":null,"labelAngle":-45,"tickSize":4,"labelPadding":2}},
"xOffset":{"field":"g","type":"nominal","sort":["WT","MUT"],"scale":{"paddingInner":0.385}},
"y":{"field":"m","type":"quantitative","scale":{"domain":[0,100],"nice":false},"axis":{"title":"% Apoptotic Cells","values":[0,20,40,60,80,100],"tickCount":6,"tickSize":5,"labelOverlap":false}},
"fill":{"condition":{"test":"datum.g=='WT'","value":"#d0d0d0"},"value":"#ffbcb2"},
"stroke":{"condition":{"test":"datum.g=='WT'","value":"#8a8a8a"},"value":"#ff3010"}}},
{"data":{"name":"pts"},"transform":[{"filter":"datum.p=='B3'"}],"mark":{"type":"point","filled":true,"size":45,"opacity":1},
"encoding":{"x":{"field":"c","type":"nominal","sort":["OCI-AML2","OCI-AML3","MOLM-13"]},"xOffset":{"field":"g","type":"nominal","sort":["WT","MUT"]},"y":{"field":"v","type":"quantitative"},
"color":{"field":"g","type":"nominal","scale":{"domain":["WT","MUT"],"range":["#5a5a5a","#ff2400"]},
"legend":{"orient":"none","legendX":97,"legendY":0,"title":null,"symbolType":"circle","symbolSize":45,"labelFontSize":13,"rowPadding":-2,"labelExpr":"datum.value=='WT'?'WT':'PPM1Dᵐᵘᵗ'","labelFontStyle":{"expr":"datum.value=='WT'?'normal':'italic'"}}}}},
{"data":{"name":"sum"},"transform":[{"filter":"datum.p=='B3'"}],"mark":{"type":"rule","strokeWidth":1.5,"color":"black"},
"encoding":{"x":{"field":"c","type":"nominal","sort":["OCI-AML2","OCI-AML3","MOLM-13"]},"xOffset":{"field":"g","type":"nominal","sort":["WT","MUT"]},"y":{"field":"lo","type":"quantitative"},"y2":{"field":"hi"}}},
{"data":{"name":"sum"},"transform":[{"filter":"datum.p=='B3'"}],"mark":{"type":"tick","size":7,"thickness":1.5,"color":"black"},
"encoding":{"x":{"field":"c","type":"nominal","sort":["OCI-AML2","OCI-AML3","MOLM-13"]},"xOffset":{"field":"g","type":"nominal","sort":["WT","MUT"]},"y":{"field":"lo","type":"quantitative"}}},
{"data":{"name":"sum"},"transform":[{"filter":"datum.p=='B3'"}],"mark":{"type":"tick","size":7,"thickness":1.5,"color":"black"},
"encoding":{"x":{"field":"c","type":"nominal","sort":["OCI-AML2","OCI-AML3","MOLM-13"]},"xOffset":{"field":"g","type":"nominal","sort":["WT","MUT"]},"y":{"field":"hi","type":"quantitative"}}},
{"data":{"name":"br"},"transform":[{"filter":"datum.p=='B3'"}],"mark":{"type":"line","color":"black","strokeWidth":1.2},
"encoding":{"x":{"field":"c","type":"nominal","sort":["OCI-AML2","OCI-AML3","MOLM-13"]},"xOffset":{"field":"g","type":"nominal","sort":["WT","MUT"]},"y":{"field":"v","type":"quantitative"},"detail":{"field":"c"},"order":{"field":"o"}}},
{"data":{"name":"sig"},"transform":[{"filter":"datum.p=='B3'"}],"mark":{"type":"text","baseline":"alphabetic","color":"black","fontSize":14},
"encoding":{"x":{"field":"c","type":"nominal","sort":["OCI-AML2","OCI-AML3","MOLM-13"]},"y":{"field":"v","type":"quantitative"},"text":{"field":"t"}}}
]}
]}
]}
],
"columns":1,"align":"none","spacing":35,
"resolve":{"scale":{"color":"independent","size":"independent","xOffset":"independent"},"legend":{"color":"independent","size":"independent"}}
},
{"title":{"text":"C","anchor":"start","fontSize":18,"fontWeight":"bold","offset":-9,"frame":"bounds"},
"spacing":0,
"resolve":{"scale":{"color":"independent","size":"independent","xOffset":"independent"},"legend":{"color":"independent","size":"independent"}},
"hconcat":[
{"width":1,"height":1,"data":{"values":[]},"mark":"point","encoding":{}},
{"width":174,"height":149,
"resolve":{"axis":{"y":"independent"}},
"layer":[
{"data":{"name":"sum"},"transform":[{"filter":"datum.p=='C'"}],"mark":{"type":"bar","strokeWidth":1.5},
"encoding":{
"x":{"field":"c","type":"nominal","sort":["MOLM-13","OCI-AML2","OCI-AML3"],"scale":{"paddingInner":0.38,"paddingOuter":0.19},"axis":{"title":null,"labelAngle":-45,"tickSize":4,"labelPadding":2}},
"xOffset":{"field":"g","type":"nominal","sort":["WT","MUT"],"scale":{"paddingInner":0.36}},
"y":{"field":"m","type":"quantitative","scale":{"domain":[0,12000],"nice":false},"axis":{"title":"MFI","titleFontWeight":"bold","titleFontSize":14,"values":[0,4000,8000,12000],"tickCount":4,"format":"d","tickSize":5,"titlePadding":20}},
"fill":{"condition":{"test":"datum.g=='WT'","value":"#d4d4d4"},"value":"#ffbab0"},
"stroke":{"condition":{"test":"datum.g=='WT'","value":"#7a7a7a"},"value":"#ff3010"}}},
{"data":{"name":"pts"},"transform":[{"filter":"datum.p=='C'"}],"mark":{"type":"point","filled":true,"size":60,"opacity":1},
"encoding":{"x":{"field":"c","type":"nominal","sort":["MOLM-13","OCI-AML2","OCI-AML3"]},"xOffset":{"field":"g","type":"nominal","sort":["WT","MUT"]},"y":{"field":"v","type":"quantitative","axis":null},
"color":{"field":"g","type":"nominal","scale":{"domain":["WT","MUT"],"range":["#5a5a5a","#ff2400"]},
"legend":{"orient":"none","legendX":178,"legendY":3,"title":null,"symbolType":"circle","symbolSize":50,"labelFontSize":13,"rowPadding":-1,"labelExpr":"datum.value=='WT'?'WT':'PPM1Dᵐᵘᵗ'","labelFontStyle":{"expr":"datum.value=='WT'?'normal':'italic'"}}}}},
{"data":{"name":"sum"},"transform":[{"filter":"datum.p=='C'"}],"mark":{"type":"rule","strokeWidth":1.5,"color":"black"},
"encoding":{"x":{"field":"c","type":"nominal","sort":["MOLM-13","OCI-AML2","OCI-AML3"]},"xOffset":{"field":"g","type":"nominal","sort":["WT","MUT"]},"y":{"field":"lo","type":"quantitative","axis":{"orient":"left","title":"(Mitosox Green+)","labels":false,"ticks":false,"domain":false,"titlePadding":44,"titleFontSize":13}},"y2":{"field":"hi"}}},
{"data":{"name":"sum"},"transform":[{"filter":"datum.p=='C'"}],"mark":{"type":"tick","size":9,"thickness":1.5,"color":"black"},
"encoding":{"x":{"field":"c","type":"nominal","sort":["MOLM-13","OCI-AML2","OCI-AML3"]},"xOffset":{"field":"g","type":"nominal","sort":["WT","MUT"]},"y":{"field":"lo","type":"quantitative","axis":null}}},
{"data":{"name":"sum"},"transform":[{"filter":"datum.p=='C'"}],"mark":{"type":"tick","size":9,"thickness":1.5,"color":"black"},
"encoding":{"x":{"field":"c","type":"nominal","sort":["MOLM-13","OCI-AML2","OCI-AML3"]},"xOffset":{"field":"g","type":"nominal","sort":["WT","MUT"]},"y":{"field":"hi","type":"quantitative","axis":null}}},
{"data":{"name":"br"},"transform":[{"filter":"datum.p=='C'"}],"mark":{"type":"line","color":"black","strokeWidth":1.2},
"encoding":{"x":{"field":"c","type":"nominal","sort":["MOLM-13","OCI-AML2","OCI-AML3"]},"xOffset":{"field":"g","type":"nominal","sort":["WT","MUT"]},"y":{"field":"v","type":"quantitative","axis":null},"detail":{"field":"c"},"order":{"field":"o"}}},
{"data":{"name":"sig"},"transform":[{"filter":"datum.p=='C'"}],"mark":{"type":"text","baseline":"alphabetic","color":"black","fontSize":15},
"encoding":{"x":{"field":"c","type":"nominal","sort":["MOLM-13","OCI-AML2","OCI-AML3"]},"y":{"field":"v","type":"quantitative","axis":null},"text":{"field":"t"}}}
]}
]}
],
"columns":1,"align":"none","spacing":45,
"resolve":{"scale":{"color":"independent","size":"independent","xOffset":"independent"},"legend":{"color":"independent","size":"independent"}},
"config":{
"font":"Liberation Sans",
"view":{"stroke":null},
"axis":{"labelFont":"Liberation Sans","titleFont":"Liberation Sans","labelFontSize":12,"titleFontSize":13,"titleFontWeight":"normal","labelColor":"black","titleColor":"black","domainColor":"black","tickColor":"black","domainWidth":1.2,"tickWidth":1.2,"grid":false,"labelFlush":false,"labelOverlap":false},
"title":{"font":"Liberation Sans","fontSize":15,"fontWeight":"normal","color":"black"},
"legend":{"labelFont":"Liberation Sans","labelFontSize":13,"labelColor":"black"},
"text":{"font":"Liberation Sans"}
}
}
